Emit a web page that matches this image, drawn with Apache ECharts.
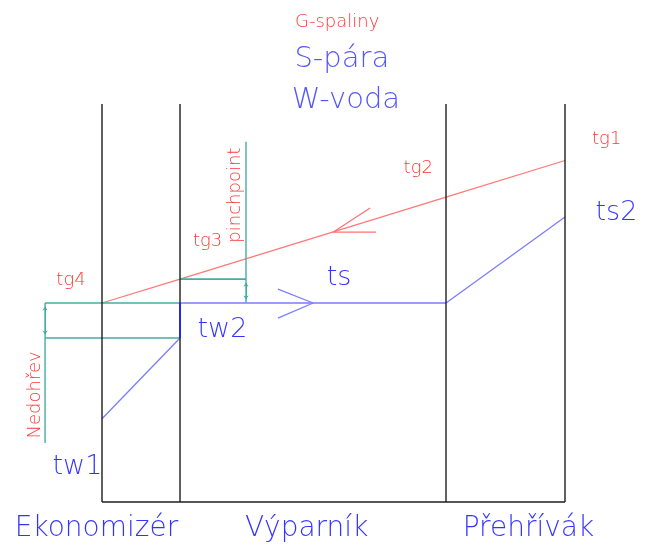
<!DOCTYPE html>
<html>
<head>
<meta charset="utf-8">
<script src="https://cdn.jsdelivr.net/npm/echarts@6/dist/echarts.min.js"></script>
<style>
  html, body { margin: 0; padding: 0; background: #fff; }
  #main { width: 647px; height: 552px; }
</style>
</head>
<body>
<div id="main"></div>
<script>
// heat axis Q (%) and temperature axis T (relative units)
var sections = ['Ekonomizér', 'Výparník', 'Přehřívák']
var sectionBorders = [0, 16.85, 74.3, 100]
var sectionTop = 100

// gas: tg4, tg3, tg2, tg1 at the section borders
var gasTemps = [50.0, 56.0, 76.6, 85.8]
// steam: ts ... ts, ts2
var steamQ = [16.85, 74.3, 100]
var steamTemps = [50.0, 50.0, 71.6]
// water: tw1 -> tw2
var waterQ = [0, 16.85]
var waterTemps = [20.9, 41.2]

// Nedohřev dimension (x, top, bottom) and pinch point dimension
var subcoolQ = -12.3
var subcoolTemps = [50.0, 41.2, 14.8]
var pinchQ = 31.1
var pinchTemps = [50.0, 56.0, 90.5]

// flow direction arrows: [tip, wing1, wing2]
var gasArrow = [[49.9, 67.8], [57.9, 73.9], [59.2, 67.8]]
var steamArrow = [[45.6, 50.0], [38.0, 53.5], [38.0, 46.2]]

// labels [Q, T, text]
var redLabels = [
  [50.8, 120.4, 'G-spaliny'],
  [109.0, 91.0, 'tg1'],
  [68.3, 83.9, 'tg2'],
  [22.8, 65.5, 'tg3'],
  [-6.7, 55.8, 'tg4']
]
var redRotLabels = [
  [28.8, 77.1, 'pinchpoint'],
  [-14.5, 26.9, 'Nedohřev']
]
var legendLabels = [
  [51.8, 111.1, 'S-pára'],
  [52.7, 100.8, 'W-voda']
]
var blueLabels = [
  [111.1, 72.5, 'ts2'],
  [51.2, 56.4, 'ts'],
  [26.0, 43.1, 'tw2'],
  [-5.3, 8.7, 'tw1']
]
var sectionLabelQ = [-1.2, 44.2, 92.1]
var sectionLabelT = -6.8

// the drawing sheet around the sections (in axis units)
var qRange = [-22.03, 117.71]
var tRange = [-12.56, 126.13]

var FONT = 'DejaVu Sans'
var RED = '#ff0000'
var BLUE = '#0000ff'
var TEAL = '#45ada3'

var myChart = echarts.init(document.getElementById('main'))
var series = []

function seg(points, color, width, z) {
  series.push({
    type: 'line',
    data: points,
    symbol: 'none',
    clip: false,
    silent: true,
    animation: false,
    z: z || 2,
    lineStyle: { color: color, width: width }
  })
}

function labels(items, color, size, rotate) {
  series.push({
    type: 'scatter',
    data: items,
    symbolSize: 0,
    clip: false,
    silent: true,
    animation: false,
    z: 5,
    label: {
      show: true,
      position: 'inside',
      formatter: function (p) { return p.value[2] },
      color: color,
      fontFamily: FONT,
      fontWeight: 200,
      fontSize: size,
      rotate: rotate || 0,
      align: 'center',
      verticalAlign: 'middle'
    }
  })
}

// section borders and base line
sectionBorders.forEach(function (q) {
  seg([[q, 0], [q, sectionTop]], '#1e1e1e', 1.4, 3)
})
seg([[sectionBorders[0], 0], [sectionBorders[3], 0]], '#1e1e1e', 1.6, 3)

// gas line
seg(sectionBorders.map(function (q, i) { return [q, gasTemps[i]] }), '#ff7878', 1.2)
// steam line
seg(steamQ.map(function (q, i) { return [q, steamTemps[i]] }), '#7c7cff', 1.3)
// water line
seg(waterQ.map(function (q, i) { return [q, waterTemps[i]] }), '#7c7cff', 1.3)
// jump tw2 -> ts
seg([[waterQ[1], waterTemps[1]], [steamQ[0], steamTemps[0]]], '#1c1cff', 1.6, 4)

// Nedohřev dimension
seg([[subcoolQ, subcoolTemps[0]], [sectionBorders[1], subcoolTemps[0]]], TEAL, 1.6)
seg([[subcoolQ, subcoolTemps[1]], [sectionBorders[1], subcoolTemps[1]]], TEAL, 1.6)
seg([[subcoolQ, subcoolTemps[0]], [subcoolQ, subcoolTemps[2]]], TEAL, 1.4)
// pinch point dimension
seg([[sectionBorders[1], pinchTemps[1]], [pinchQ, pinchTemps[1]]], TEAL, 1.6)
seg([[pinchQ, pinchTemps[0]], [pinchQ, pinchTemps[2]]], TEAL, 1.4)

// small dimension arrows
series.push({
  type: 'lines',
  coordinateSystem: 'cartesian2d',
  symbol: ['arrow', 'arrow'],
  symbolSize: 4,
  silent: true,
  animation: false,
  lineStyle: { color: TEAL, width: 1, opacity: 1 },
  data: [
    { coords: [[subcoolQ, subcoolTemps[0] - 0.9], [subcoolQ, subcoolTemps[1] + 0.9]] },
    { coords: [[pinchQ, pinchTemps[1] - 0.9], [pinchQ, pinchTemps[0] + 0.9]] }
  ]
})

// flow arrows
seg([gasArrow[1], gasArrow[0], gasArrow[2]], '#ff7070', 1.2)
seg([steamArrow[1], steamArrow[0], steamArrow[2]], '#7c7cff', 1.3)

labels(redLabels, RED, 18)
labels(redRotLabels, RED, 18, 90)
labels(legendLabels, '#2a2aff', 29)
labels(blueLabels, BLUE, 27)
labels(sections.map(function (s, i) { return [sectionLabelQ[i], sectionLabelT, s] }), BLUE, 28)

myChart.setOption({
  backgroundColor: '#fff',
  animation: false,
  grid: { left: 0, right: 0, top: 0, bottom: 0 },
  xAxis: {
    type: 'value',
    min: qRange[0],
    max: qRange[1],
    show: false,
    splitLine: { show: false }
  },
  yAxis: {
    type: 'value',
    min: tRange[0],
    max: tRange[1],
    show: false,
    splitLine: { show: false }
  },
  series: series
})
</script>
</body>
</html>
